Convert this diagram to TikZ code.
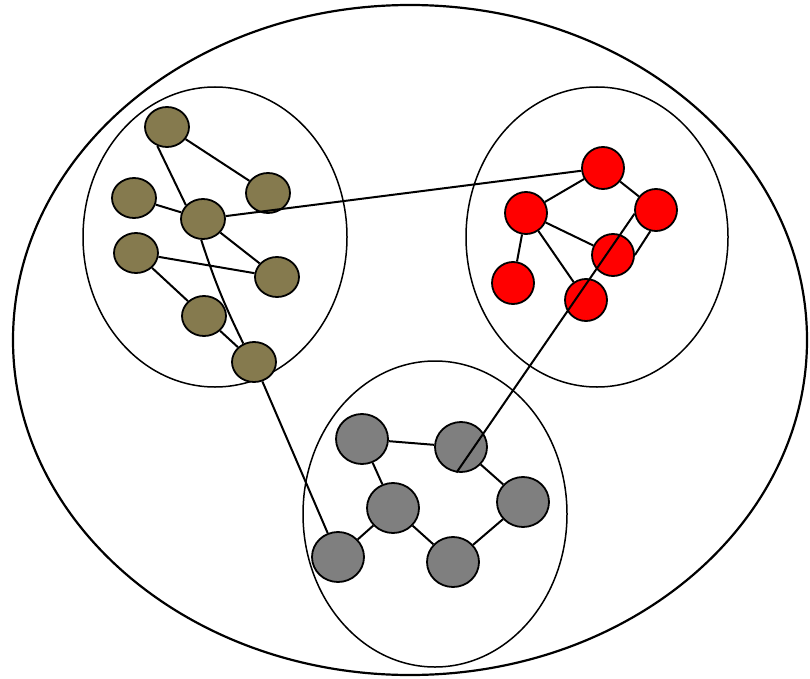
\documentclass[tikz,border=0pt]{standalone}
\usepackage{xcolor}
\usepackage{tikz}
\usetikzlibrary{shapes.geometric}
\definecolor{cOlive}{HTML}{857A4E}
\definecolor{cRed}{HTML}{FF0000}
\definecolor{cGray}{HTML}{7F7F7F}

\begin{document}
\begin{tikzpicture}[
  x=1pt, y=-1pt,
  group/.style={draw=black, line width=1.5pt},
  link/.style={draw=black, line width=2pt},
  vtx/.style={ellipse, draw=black, line width=1.8pt, inner sep=0pt},
  olive/.style={vtx, fill=cOlive, minimum width=44pt, minimum height=40pt},
  rednode/.style={vtx, fill=cRed, minimum width=42pt, minimum height=42pt},
  graynode/.style={vtx, fill=cGray, minimum width=52pt, minimum height=50pt}
]
\useasboundingbox (0,0) rectangle (810,679);

% outer set and the three groups
\draw[group, line width=2.2pt] (410,340) ellipse [x radius=397pt, y radius=335pt];
\draw[group] (215,237) ellipse [x radius=132pt, y radius=150pt];
\draw[group] (597,237) ellipse [x radius=131pt, y radius=150pt];
\draw[group] (435,514) ellipse [x radius=132pt, y radius=153pt];

% olive group
\node[olive] (n1) at (167,127) {};
\node[olive] (n2) at (134,198) {};
\node[olive] (n3) at (268,193) {};
\node[olive] (n4) at (203,219) {};
\node[olive] (n5) at (136,253) {};
\node[olive] (n6) at (277,277) {};
\node[olive] (n7) at (204,316) {};
\node[olive] (n8) at (254,362) {};

% red group
\node[rednode] (r1) at (603,168) {};
\node[rednode] (r2) at (526,213) {};
\node[rednode] (r3) at (656,210) {};
\node[rednode] (r4) at (613,255) {};
\node[rednode] (r5) at (513,283) {};
\node[rednode] (r6) at (586,300) {};

% gray group
\node[graynode] (g1) at (362,439) {};
\node[graynode] (g2) at (461,447) {};
\node[graynode] (g3) at (393,508) {};
\node[graynode] (g4) at (523,502) {};
\node[graynode] (g5) at (338,557) {};
\node[graynode] (g6) at (453,562) {};

% edges inside groups
\draw[link] (n1) -- (n3);
\draw[link] (n1.243) -- (n4.141);
\draw[link] (n2) -- (n4);
\draw[link] (n4) -- (n6);
\draw[link] (n5) -- (n6);
\draw[link] (n5) -- (n7);
\draw[link] (n7) -- (n8);
\draw[link] (n4.265) to[bend right=4] (n8.120);

\draw[link] (r1) -- (r2);
\draw[link] (r1) -- (r3);
\draw[link] (r2) -- (r4);
\draw[link] (r2) -- (r5);
\draw[link] (r2) -- (r6);
\draw[link] (r3.255) -- (r4.east);

\draw[link] (g1) -- (g2);
\draw[link] (g1) -- (g3);
\draw[link] (g3) -- (g5);
\draw[link] (g3) -- (g6);
\draw[link] (g6) -- (g4);
\draw[link] (g4) -- (g2);

% edges between groups
\draw[link] (n4) -- (r1);
\draw[link] (n8) -- (g5);
\draw[link] (g2.-100) -- (r3.190);
\end{tikzpicture}
\end{document}
